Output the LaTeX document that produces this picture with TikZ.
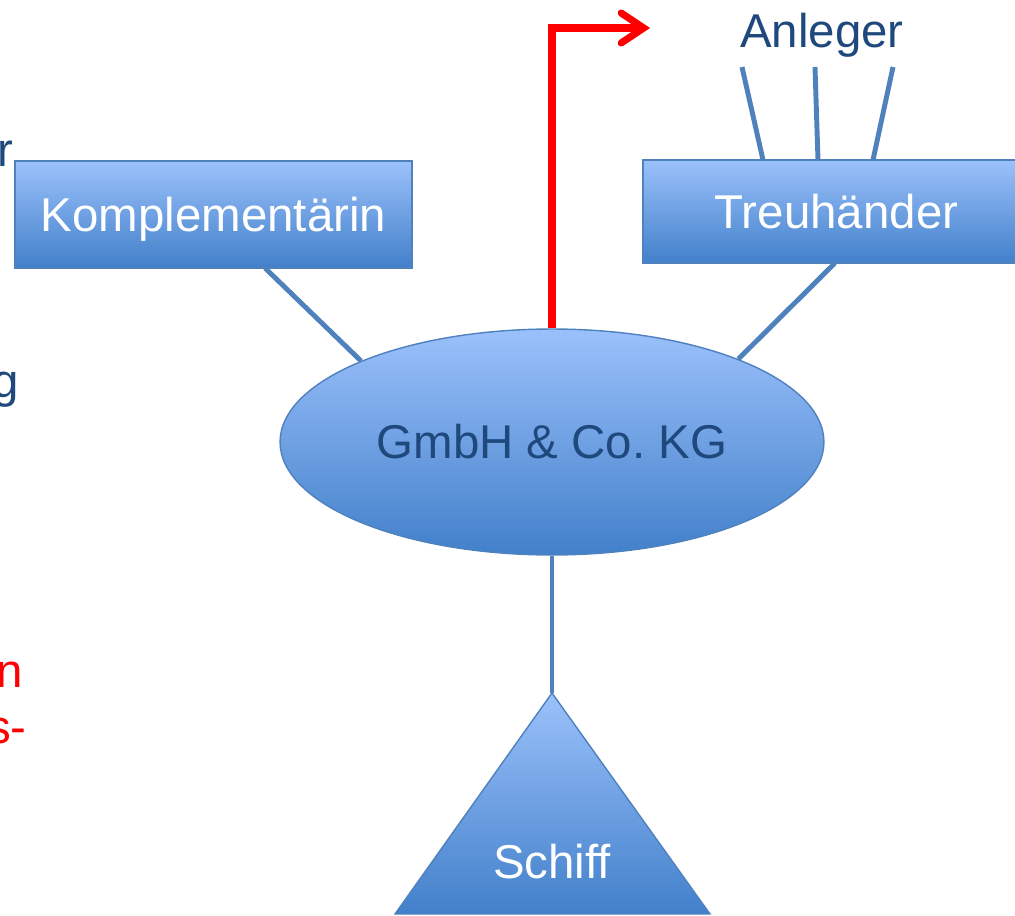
\documentclass[tikz,border=0pt]{standalone}
\usepackage{fontspec}
\setmainfont{Liberation Sans}
\usetikzlibrary{shapes.geometric,arrows.meta}
\definecolor{boxtop}{HTML}{9BC1FB}
\definecolor{boxmid}{HTML}{7EA8EC}
\definecolor{boxbot}{HTML}{4280CA}
\definecolor{rim}{HTML}{4F81BD}
\definecolor{navy}{HTML}{1F497D}
\begin{document}
\begin{tikzpicture}[x=0.02cm,y=-0.02cm,
		every node/.style={font=\fontsize{27}{32}\selectfont},
		bluefill/.style={top color=boxtop,middle color=boxmid,bottom color=boxbot,draw=rim,line width=0.8pt},
		box/.style={bluefill,rectangle,inner sep=0pt,text=white},
		link/.style={rim,line width=2.8pt},
		cut/.style={anchor=base east,inner sep=0pt}]
		\useasboundingbox (0,0) rectangle (1015,916);
		\clip (0,0) rectangle (1015,916);
		% cut-off text at the left edge
		\node[cut,text=navy] (cutr) at (14,166) {r};
		\node[cut,text=navy] (cutg) at (19,397) {g};
		\node[cut,text=red] (cutn) at (23,687) {n};
		\node[cut,text=red] (cuts) at (27,743) {s-};
		% boxes
		\node[box,text depth=0pt,minimum width=7.94cm,minimum height=2.14cm] (komp) at (213.5,214.5) {Komplementärin};
		\node[box,minimum width=7.74cm,minimum height=2.06cm] (treu) at (836.5,211.5) {Treuhänder};
		\node[bluefill,ellipse,inner sep=0pt,minimum width=10.88cm,minimum height=4.52cm,text=navy] (kg) at (552,442) {GmbH \& Co.\ KG};
		\draw[bluefill] (552,693) coordinate (apex) -- (395,914) -- (710,914) -- cycle;
		\node[text=white] (schiff) at (552,862) {Schiff};
		\node[text=navy,anchor=base,inner sep=0pt] (anl) at (822,48) {Anleger};
		% connectors
		\coordinate (kfoot) at (265,268);
		\coordinate (tfoot) at (835,263);
		\draw[link] (kfoot) -- (kg.157);
		\draw[link] (tfoot) -- (kg.24);
		\draw[link] (kg.south) -- (apex);
		\foreach \up/\dn [count=\i] in {742/763,815/818,893/873}{
			\coordinate (anl\i) at (\up,67);
			\coordinate (treu\i) at (\dn,160);
			\draw[link] (anl\i) -- (treu\i);
		}
		\coordinate (outtip) at (650,28);
		\draw[red,line width=4pt,-{Straight Barb[length=0.45cm,width=0.6cm,line cap=round]}] (kg.north) |- (outtip);
	    \end{tikzpicture}
\end{document}
